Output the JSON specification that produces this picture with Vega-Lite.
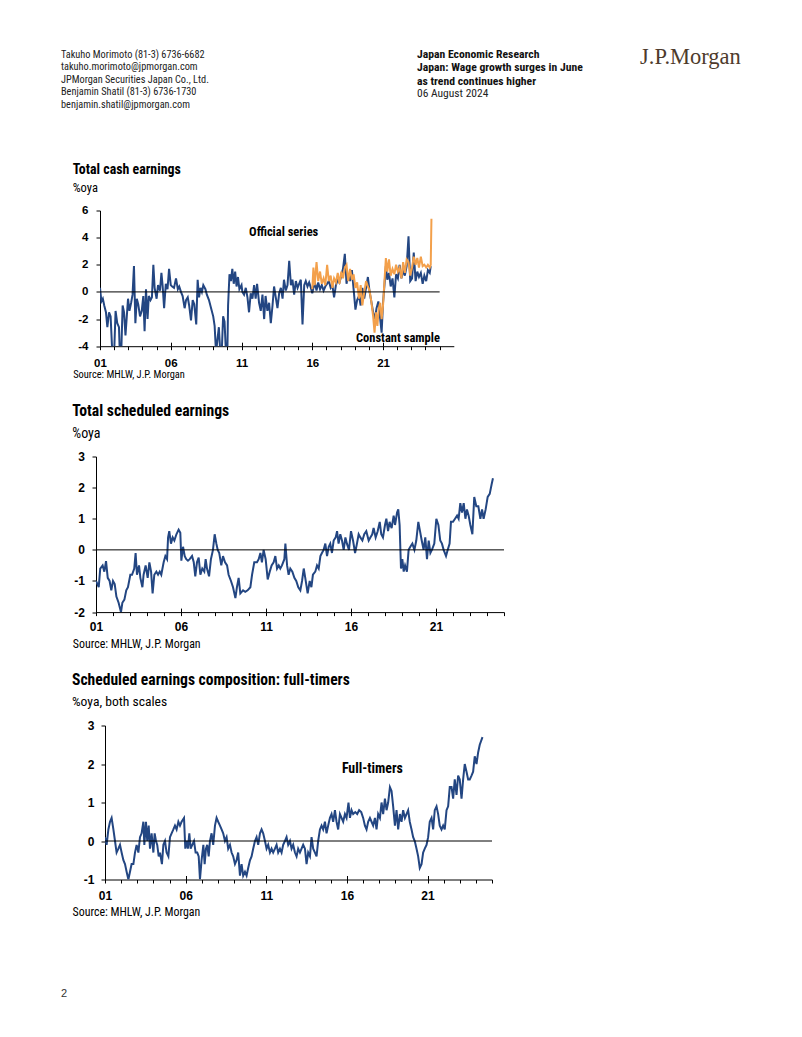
{
  "$schema": "https://vega.github.io/schema/vega-lite/v6.json",
  "background": "white",
  "padding": {"left": 61, "top": 45.5, "right": 0, "bottom": 0},
  "config": {"view": {"stroke": null}},
  "datasets": {
    "cashO": [
      {"t":2001.0,"v":0.3},{"t":2001.1,"v":-0.7},{"t":2001.2,"v":-0.5},{"t":2001.3,"v":-1.0},{"t":2001.42,"v":-1.5},{"t":2001.52,"v":-2.6},{"t":2001.64,"v":-1.5},{"t":2001.75,"v":-1.8},{"t":2001.87,"v":-4.5},{"t":2002.0,"v":-4.5},
      {"t":2002.1,"v":-1.4},{"t":2002.22,"v":-2.3},{"t":2002.34,"v":-2.6},{"t":2002.4,"v":-4.5},{"t":2002.5,"v":-4.5},{"t":2002.6,"v":-1.0},{"t":2002.7,"v":-1.5},{"t":2002.8,"v":-3.2},{"t":2002.98,"v":-0.5},
      {"t":2003.08,"v":-1.4},{"t":2003.2,"v":-0.8},{"t":2003.3,"v":-0.2},{"t":2003.4,"v":1.9},{"t":2003.5,"v":-2.3},{"t":2003.6,"v":-0.5},{"t":2003.7,"v":-0.9},{"t":2003.83,"v":-1.8},{"t":2003.95,"v":-1.4},
      {"t":2004.06,"v":-0.3},{"t":2004.15,"v":-2.9},{"t":2004.25,"v":0.2},{"t":2004.36,"v":-2.0},{"t":2004.45,"v":-0.3},{"t":2004.57,"v":-0.6},{"t":2004.67,"v":-0.4},{"t":2004.77,"v":2.0},{"t":2004.86,"v":0.3},
      {"t":2005.0,"v":-0.5},{"t":2005.1,"v":0.5},{"t":2005.24,"v":0.1},{"t":2005.34,"v":1.4},{"t":2005.43,"v":0.4},{"t":2005.53,"v":-1.2},{"t":2005.65,"v":0.6},{"t":2005.77,"v":0.2},{"t":2005.88,"v":1.7},
      {"t":2006.0,"v":0.5},{"t":2006.1,"v":0.4},{"t":2006.23,"v":0.3},{"t":2006.37,"v":1.0},{"t":2006.5,"v":0.2},{"t":2006.6,"v":0.4},{"t":2006.72,"v":0.0},{"t":2006.84,"v":-0.3},{"t":2006.98,"v":-1.2},
      {"t":2007.08,"v":-0.6},{"t":2007.2,"v":-0.4},{"t":2007.3,"v":-1.0},{"t":2007.43,"v":-2.1},{"t":2007.55,"v":-0.6},{"t":2007.66,"v":-0.9},{"t":2007.8,"v":-2.4},{"t":2007.9,"v":0.9},
      {"t":2008.0,"v":-0.4},{"t":2008.1,"v":0.3},{"t":2008.2,"v":0.0},{"t":2008.3,"v":0.5},{"t":2008.45,"v":0.2},{"t":2008.55,"v":-0.2},{"t":2008.7,"v":-0.6},{"t":2008.85,"v":-1.2},
      {"t":2009.0,"v":-1.8},{"t":2009.1,"v":-2.5},{"t":2009.2,"v":-4.5},{"t":2009.3,"v":-3.5},{"t":2009.4,"v":-2.6},{"t":2009.5,"v":-4.5},{"t":2009.6,"v":-4.5},{"t":2009.7,"v":-1.8},{"t":2009.8,"v":-2.2},{"t":2009.9,"v":-4.5},
      {"t":2010.0,"v":-4.5},{"t":2010.05,"v":-1.0},{"t":2010.15,"v":1.3},{"t":2010.25,"v":0.8},{"t":2010.35,"v":1.7},{"t":2010.45,"v":0.6},{"t":2010.55,"v":1.5},{"t":2010.65,"v":0.4},{"t":2010.75,"v":1.1},{"t":2010.85,"v":0.2},
      {"t":2011.0,"v":0.5},{"t":2011.06,"v":0.0},{"t":2011.18,"v":-0.2},{"t":2011.3,"v":0.3},{"t":2011.42,"v":-0.4},{"t":2011.53,"v":-1.5},{"t":2011.65,"v":-0.1},{"t":2011.77,"v":-0.5},{"t":2011.89,"v":0.5},
      {"t":2012.0,"v":-0.5},{"t":2012.1,"v":0.6},{"t":2012.24,"v":-0.8},{"t":2012.36,"v":-1.4},{"t":2012.48,"v":-0.2},{"t":2012.6,"v":-2.0},{"t":2012.7,"v":-0.3},{"t":2012.83,"v":-1.4},{"t":2012.95,"v":-0.8},
      {"t":2013.07,"v":-2.3},{"t":2013.19,"v":-1.0},{"t":2013.3,"v":0.4},{"t":2013.42,"v":-0.4},{"t":2013.54,"v":-1.2},{"t":2013.66,"v":-0.1},{"t":2013.78,"v":0.3},{"t":2013.9,"v":-0.5},
      {"t":2014.0,"v":0.9},{"t":2014.13,"v":0.1},{"t":2014.25,"v":0.5},{"t":2014.37,"v":2.3},{"t":2014.49,"v":0.5},{"t":2014.6,"v":0.9},{"t":2014.72,"v":-0.2},{"t":2014.84,"v":0.8},{"t":2014.96,"v":0.3},
      {"t":2015.07,"v":0.6},{"t":2015.19,"v":0.9},{"t":2015.31,"v":-2.4},{"t":2015.43,"v":0.5},{"t":2015.54,"v":0.8},{"t":2015.66,"v":0.4},{"t":2015.78,"v":0.7},{"t":2015.9,"v":0.3},
      {"t":2016.0,"v":-0.1},{"t":2016.08,"v":0.3},{"t":2016.2,"v":0.6},{"t":2016.3,"v":0.1},{"t":2016.42,"v":0.7},{"t":2016.55,"v":0.2},{"t":2016.67,"v":0.5},{"t":2016.8,"v":0.1},{"t":2016.92,"v":0.4},
      {"t":2017.05,"v":0.6},{"t":2017.17,"v":0.8},{"t":2017.3,"v":0.3},{"t":2017.42,"v":0.5},{"t":2017.54,"v":-0.4},{"t":2017.67,"v":0.5},{"t":2017.8,"v":0.9},{"t":2017.92,"v":0.7},
      {"t":2018.05,"v":1.2},{"t":2018.17,"v":1.7},{"t":2018.3,"v":2.8},{"t":2018.42,"v":0.6},{"t":2018.54,"v":1.3},{"t":2018.67,"v":0.8},{"t":2018.8,"v":1.6},{"t":2018.92,"v":0.2},
      {"t":2019.05,"v":-1.3},{"t":2019.17,"v":-0.6},{"t":2019.3,"v":-0.3},{"t":2019.42,"v":-1.0},{"t":2019.54,"v":0.3},{"t":2019.67,"v":-0.5},{"t":2019.8,"v":0.3},{"t":2019.93,"v":1.1},
      {"t":2020.05,"v":0.0},{"t":2020.17,"v":-0.7},{"t":2020.3,"v":-1.5},{"t":2020.42,"v":-2.0},{"t":2020.54,"v":-1.2},{"t":2020.67,"v":-0.7},{"t":2020.8,"v":-2.0},{"t":2020.9,"v":-3.0},
      {"t":2021.0,"v":-0.8},{"t":2021.1,"v":0.5},{"t":2021.2,"v":1.9},{"t":2021.3,"v":0.9},{"t":2021.42,"v":1.4},{"t":2021.54,"v":0.4},{"t":2021.67,"v":1.0},{"t":2021.8,"v":-0.4},{"t":2021.92,"v":1.3},
      {"t":2022.05,"v":1.0},{"t":2022.17,"v":2.0},{"t":2022.3,"v":1.0},{"t":2022.42,"v":1.6},{"t":2022.54,"v":1.2},{"t":2022.67,"v":1.9},{"t":2022.8,"v":4.1},{"t":2022.92,"v":0.8},
      {"t":2023.05,"v":1.0},{"t":2023.17,"v":2.9},{"t":2023.3,"v":0.8},{"t":2023.42,"v":1.5},{"t":2023.54,"v":1.1},{"t":2023.67,"v":1.4},{"t":2023.8,"v":0.6},{"t":2023.92,"v":1.2},
      {"t":2024.05,"v":0.8},{"t":2024.17,"v":1.6},{"t":2024.3,"v":1.4},{"t":2024.37,"v":1.9}
    ],
    "cashC": [
      {"t":2016.0,"v":0.2},{"t":2016.08,"v":1.8},{"t":2016.17,"v":0.5},{"t":2016.3,"v":2.2},{"t":2016.42,"v":0.8},{"t":2016.55,"v":1.5},{"t":2016.67,"v":0.6},{"t":2016.8,"v":1.0},{"t":2016.92,"v":0.5},
      {"t":2017.05,"v":2.0},{"t":2017.17,"v":0.8},{"t":2017.3,"v":1.2},{"t":2017.42,"v":0.3},{"t":2017.54,"v":1.0},{"t":2017.67,"v":0.7},{"t":2017.8,"v":1.4},{"t":2017.92,"v":0.6},
      {"t":2018.05,"v":1.5},{"t":2018.17,"v":1.0},{"t":2018.3,"v":1.8},{"t":2018.42,"v":2.0},{"t":2018.54,"v":0.8},{"t":2018.67,"v":1.7},{"t":2018.8,"v":0.9},{"t":2018.92,"v":1.3},
      {"t":2019.05,"v":0.3},{"t":2019.17,"v":0.7},{"t":2019.3,"v":-0.5},{"t":2019.42,"v":0.5},{"t":2019.54,"v":-1.0},{"t":2019.67,"v":0.0},{"t":2019.8,"v":0.8},{"t":2019.93,"v":0.4},
      {"t":2020.05,"v":0.1},{"t":2020.17,"v":-0.7},{"t":2020.3,"v":-1.8},{"t":2020.4,"v":-3.0},{"t":2020.5,"v":-1.5},{"t":2020.6,"v":-2.5},{"t":2020.7,"v":-1.2},{"t":2020.8,"v":-0.8},{"t":2020.9,"v":-2.0},
      {"t":2021.0,"v":-1.0},{"t":2021.1,"v":0.8},{"t":2021.2,"v":2.5},{"t":2021.3,"v":1.5},{"t":2021.42,"v":2.4},{"t":2021.54,"v":1.2},{"t":2021.67,"v":1.7},{"t":2021.8,"v":1.3},{"t":2021.92,"v":2.0},
      {"t":2022.05,"v":1.5},{"t":2022.17,"v":1.8},{"t":2022.3,"v":1.0},{"t":2022.42,"v":2.2},{"t":2022.54,"v":1.4},{"t":2022.67,"v":2.4},{"t":2022.8,"v":2.2},{"t":2022.92,"v":1.2},
      {"t":2023.05,"v":1.8},{"t":2023.17,"v":2.6},{"t":2023.3,"v":2.0},{"t":2023.42,"v":2.5},{"t":2023.54,"v":1.8},{"t":2023.67,"v":2.6},{"t":2023.8,"v":1.9},{"t":2023.92,"v":2.0},
      {"t":2024.05,"v":1.8},{"t":2024.17,"v":2.0},{"t":2024.3,"v":1.8},{"t":2024.37,"v":2.0},{"t":2024.42,"v":5.4}
    ],
    "sched": [
      {"t":2001.0,"v":-1.0},{"t":2001.16,"v":-1.2},{"t":2001.25,"v":-0.6},{"t":2001.39,"v":-0.5},{"t":2001.49,"v":-0.7},{"t":2001.59,"v":-0.36},{"t":2001.69,"v":-0.9},{"t":2001.8,"v":-1.0},{"t":2001.9,"v":-1.3},
      {"t":2002.0,"v":-1.0},{"t":2002.1,"v":-1.1},{"t":2002.2,"v":-1.5},{"t":2002.33,"v":-1.7},{"t":2002.47,"v":-2.0},{"t":2002.55,"v":-1.7},{"t":2002.67,"v":-1.6},{"t":2002.78,"v":-1.3},{"t":2002.88,"v":-1.2},
      {"t":2003.02,"v":-0.8},{"t":2003.12,"v":-0.8},{"t":2003.25,"v":-0.6},{"t":2003.33,"v":-0.1},{"t":2003.41,"v":-0.8},{"t":2003.53,"v":-0.5},{"t":2003.61,"v":-0.9},{"t":2003.73,"v":-1.2},{"t":2003.8,"v":-0.8},{"t":2003.92,"v":-0.5},
      {"t":2004.04,"v":-0.9},{"t":2004.14,"v":-0.4},{"t":2004.24,"v":-0.7},{"t":2004.33,"v":-1.4},{"t":2004.43,"v":-0.8},{"t":2004.55,"v":-0.7},{"t":2004.65,"v":-0.8},{"t":2004.75,"v":-0.7},{"t":2004.84,"v":-0.8},{"t":2004.98,"v":-0.4},
      {"t":2005.08,"v":-0.2},{"t":2005.18,"v":-0.3},{"t":2005.24,"v":0.4},{"t":2005.31,"v":0.6},{"t":2005.41,"v":0.2},{"t":2005.51,"v":0.4},{"t":2005.61,"v":0.3},{"t":2005.73,"v":0.5},{"t":2005.86,"v":0.65},{"t":2005.96,"v":0.55},
      {"t":2006.02,"v":-0.35},{"t":2006.12,"v":0.1},{"t":2006.22,"v":-0.2},{"t":2006.31,"v":-0.3},{"t":2006.41,"v":-0.35},{"t":2006.51,"v":-0.3},{"t":2006.65,"v":-0.2},{"t":2006.75,"v":-0.4},{"t":2006.84,"v":-0.85},{"t":2006.94,"v":-0.4},
      {"t":2007.04,"v":-0.25},{"t":2007.14,"v":-0.8},{"t":2007.25,"v":-0.6},{"t":2007.37,"v":-0.7},{"t":2007.45,"v":-0.3},{"t":2007.53,"v":-0.6},{"t":2007.65,"v":-0.85},{"t":2007.76,"v":-0.3},{"t":2007.88,"v":0.0},{"t":2007.98,"v":0.5},
      {"t":2008.08,"v":0.2},{"t":2008.16,"v":0.0},{"t":2008.25,"v":-0.1},{"t":2008.37,"v":-0.5},{"t":2008.47,"v":-0.2},{"t":2008.59,"v":-0.4},{"t":2008.71,"v":-0.5},{"t":2008.8,"v":-0.8},{"t":2008.94,"v":-1.0},
      {"t":2009.06,"v":-1.2},{"t":2009.2,"v":-1.55},{"t":2009.29,"v":-1.2},{"t":2009.39,"v":-0.9},{"t":2009.49,"v":-1.4},{"t":2009.65,"v":-1.3},{"t":2009.78,"v":-1.35},{"t":2009.92,"v":-1.3},
      {"t":2010.08,"v":-1.2},{"t":2010.18,"v":-0.8},{"t":2010.31,"v":-0.4},{"t":2010.47,"v":-0.4},{"t":2010.57,"v":-0.3},{"t":2010.67,"v":-0.1},{"t":2010.76,"v":-0.4},{"t":2010.86,"v":0.0},{"t":2010.98,"v":-0.3},
      {"t":2011.1,"v":-0.95},{"t":2011.22,"v":-0.7},{"t":2011.33,"v":-0.5},{"t":2011.45,"v":-0.4},{"t":2011.55,"v":-0.2},{"t":2011.65,"v":-0.6},{"t":2011.75,"v":-0.5},{"t":2011.84,"v":-0.6},{"t":2011.94,"v":-0.5},
      {"t":2012.08,"v":-0.3},{"t":2012.14,"v":0.2},{"t":2012.24,"v":-0.5},{"t":2012.33,"v":-0.8},{"t":2012.43,"v":-0.6},{"t":2012.55,"v":-0.7},{"t":2012.67,"v":-0.9},{"t":2012.78,"v":-1.0},{"t":2012.9,"v":-1.2},
      {"t":2013.02,"v":-1.3},{"t":2013.12,"v":-1.0},{"t":2013.22,"v":-0.6},{"t":2013.31,"v":-0.9},{"t":2013.45,"v":-1.4},{"t":2013.57,"v":-1.0},{"t":2013.67,"v":-1.2},{"t":2013.76,"v":-0.8},{"t":2013.9,"v":-0.7},
      {"t":2014.0,"v":-0.5},{"t":2014.1,"v":-0.6},{"t":2014.2,"v":-0.2},{"t":2014.29,"v":-0.1},{"t":2014.39,"v":0.0},{"t":2014.49,"v":0.2},{"t":2014.59,"v":-0.2},{"t":2014.69,"v":0.1},{"t":2014.78,"v":0.2},{"t":2014.88,"v":-0.1},{"t":2014.98,"v":0.3},
      {"t":2015.1,"v":0.4},{"t":2015.18,"v":0.6},{"t":2015.27,"v":0.2},{"t":2015.37,"v":0.5},{"t":2015.47,"v":0.3},{"t":2015.57,"v":0.0},{"t":2015.67,"v":0.4},{"t":2015.76,"v":0.2},{"t":2015.88,"v":0.0},
      {"t":2016.0,"v":0.6},{"t":2016.12,"v":0.3},{"t":2016.24,"v":-0.1},{"t":2016.35,"v":0.2},{"t":2016.45,"v":0.5},{"t":2016.55,"v":0.4},{"t":2016.67,"v":0.3},{"t":2016.78,"v":0.5},{"t":2016.9,"v":0.6},
      {"t":2017.04,"v":0.3},{"t":2017.14,"v":0.4},{"t":2017.25,"v":0.5},{"t":2017.33,"v":0.7},{"t":2017.45,"v":0.4},{"t":2017.57,"v":0.6},{"t":2017.69,"v":0.9},{"t":2017.78,"v":0.5},{"t":2017.88,"v":0.4},
      {"t":2018.0,"v":0.8},{"t":2018.08,"v":1.0},{"t":2018.18,"v":0.6},{"t":2018.27,"v":0.9},{"t":2018.39,"v":0.7},{"t":2018.51,"v":1.1},{"t":2018.59,"v":0.8},{"t":2018.71,"v":1.2},{"t":2018.78,"v":1.3},{"t":2018.86,"v":0.8},{"t":2018.94,"v":-0.6},
      {"t":2019.02,"v":-0.3},{"t":2019.1,"v":-0.7},{"t":2019.18,"v":-0.5},{"t":2019.29,"v":-0.7},{"t":2019.39,"v":0.0},{"t":2019.49,"v":0.1},{"t":2019.61,"v":0.2},{"t":2019.73,"v":0.0},{"t":2019.84,"v":0.3},{"t":2019.96,"v":0.9},
      {"t":2020.06,"v":0.6},{"t":2020.16,"v":0.3},{"t":2020.27,"v":0.0},{"t":2020.37,"v":0.4},{"t":2020.47,"v":-0.3},{"t":2020.57,"v":0.3},{"t":2020.67,"v":-0.1},{"t":2020.76,"v":0.0},{"t":2020.9,"v":0.2},
      {"t":2021.02,"v":1.0},{"t":2021.14,"v":0.8},{"t":2021.25,"v":0.3},{"t":2021.35,"v":0.2},{"t":2021.45,"v":0.0},{"t":2021.59,"v":-0.2},{"t":2021.69,"v":0.0},{"t":2021.8,"v":0.2},{"t":2021.88,"v":0.9},
      {"t":2022.0,"v":0.9},{"t":2022.12,"v":1.0},{"t":2022.24,"v":1.1},{"t":2022.33,"v":1.0},{"t":2022.43,"v":1.5},{"t":2022.53,"v":1.2},{"t":2022.63,"v":1.5},{"t":2022.73,"v":1.0},{"t":2022.82,"v":1.3},{"t":2022.92,"v":1.1},
      {"t":2023.02,"v":0.8},{"t":2023.14,"v":0.5},{"t":2023.25,"v":1.7},{"t":2023.37,"v":1.4},{"t":2023.49,"v":1.4},{"t":2023.61,"v":1.0},{"t":2023.71,"v":1.3},{"t":2023.8,"v":1.0},{"t":2023.92,"v":1.3},
      {"t":2024.04,"v":1.7},{"t":2024.16,"v":1.8},{"t":2024.27,"v":2.1},{"t":2024.35,"v":2.3}
    ],
    "full": [
      {"t":2001.0,"v":0.1},{"t":2001.1,"v":-0.1},{"t":2001.21,"v":0.3},{"t":2001.31,"v":0.5},{"t":2001.41,"v":0.6},{"t":2001.52,"v":0.3},{"t":2001.62,"v":0.0},{"t":2001.72,"v":-0.3},{"t":2001.83,"v":-0.2},{"t":2001.93,"v":-0.1},
      {"t":2002.03,"v":-0.3},{"t":2002.14,"v":-0.5},{"t":2002.24,"v":-0.6},{"t":2002.34,"v":-0.8},{"t":2002.45,"v":-1.0},{"t":2002.55,"v":-0.8},{"t":2002.65,"v":-0.6},{"t":2002.76,"v":-0.6},{"t":2002.86,"v":-0.3},{"t":2002.96,"v":-0.1},
      {"t":2003.07,"v":-0.3},{"t":2003.17,"v":0.1},{"t":2003.27,"v":0.2},{"t":2003.38,"v":0.5},{"t":2003.44,"v":-0.1},{"t":2003.54,"v":0.5},{"t":2003.62,"v":0.0},{"t":2003.71,"v":0.4},{"t":2003.79,"v":-0.2},{"t":2003.89,"v":0.2},
      {"t":2004.0,"v":-0.3},{"t":2004.08,"v":0.2},{"t":2004.16,"v":0.0},{"t":2004.24,"v":-0.1},{"t":2004.33,"v":-0.4},{"t":2004.41,"v":-0.3},{"t":2004.53,"v":-0.6},{"t":2004.62,"v":-0.1},{"t":2004.72,"v":0.0},{"t":2004.82,"v":-0.3},{"t":2004.93,"v":-0.4},
      {"t":2005.03,"v":0.1},{"t":2005.13,"v":0.2},{"t":2005.24,"v":0.3},{"t":2005.34,"v":0.4},{"t":2005.44,"v":0.3},{"t":2005.55,"v":0.5},{"t":2005.65,"v":0.4},{"t":2005.75,"v":0.5},{"t":2005.9,"v":0.6},{"t":2005.98,"v":-0.2},
      {"t":2006.06,"v":0.0},{"t":2006.14,"v":-0.2},{"t":2006.23,"v":0.2},{"t":2006.31,"v":-0.2},{"t":2006.41,"v":-0.1},{"t":2006.52,"v":0.0},{"t":2006.62,"v":-0.3},{"t":2006.72,"v":-0.3},{"t":2006.81,"v":-0.4},{"t":2006.89,"v":-1.0},{"t":2006.99,"v":-0.5},
      {"t":2007.1,"v":-0.1},{"t":2007.18,"v":-0.6},{"t":2007.26,"v":-0.2},{"t":2007.34,"v":-0.1},{"t":2007.43,"v":-0.4},{"t":2007.51,"v":0.0},{"t":2007.61,"v":0.2},{"t":2007.71,"v":-0.1},{"t":2007.82,"v":0.4},{"t":2007.92,"v":0.6},
      {"t":2008.02,"v":0.5},{"t":2008.13,"v":0.4},{"t":2008.23,"v":0.3},{"t":2008.33,"v":0.2},{"t":2008.44,"v":0.0},{"t":2008.54,"v":0.1},{"t":2008.64,"v":-0.2},{"t":2008.75,"v":-0.1},{"t":2008.85,"v":-0.3},{"t":2008.95,"v":-0.4},
      {"t":2009.06,"v":-0.6},{"t":2009.16,"v":-0.5},{"t":2009.26,"v":-0.3},{"t":2009.37,"v":-0.9},{"t":2009.47,"v":-0.6},{"t":2009.57,"v":-0.9},{"t":2009.68,"v":-0.8},{"t":2009.78,"v":-0.9},{"t":2009.88,"v":-0.7},{"t":2009.99,"v":-0.5},
      {"t":2010.09,"v":-0.4},{"t":2010.19,"v":-0.2},{"t":2010.3,"v":0.0},{"t":2010.4,"v":0.1},{"t":2010.5,"v":-0.1},{"t":2010.61,"v":0.2},{"t":2010.71,"v":0.3},{"t":2010.81,"v":0.2},{"t":2010.92,"v":0.0},
      {"t":2011.02,"v":-0.2},{"t":2011.12,"v":-0.1},{"t":2011.23,"v":-0.3},{"t":2011.33,"v":-0.2},{"t":2011.43,"v":-0.3},{"t":2011.54,"v":-0.2},{"t":2011.64,"v":-0.1},{"t":2011.74,"v":-0.3},{"t":2011.85,"v":-0.2},{"t":2011.95,"v":-0.3},
      {"t":2012.05,"v":-0.1},{"t":2012.16,"v":0.0},{"t":2012.26,"v":0.1},{"t":2012.36,"v":-0.1},{"t":2012.47,"v":0.0},{"t":2012.57,"v":-0.2},{"t":2012.67,"v":-0.1},{"t":2012.78,"v":-0.3},{"t":2012.88,"v":-0.4},{"t":2012.98,"v":-0.2},
      {"t":2013.09,"v":-0.3},{"t":2013.19,"v":-0.2},{"t":2013.29,"v":-0.1},{"t":2013.4,"v":-0.2},{"t":2013.5,"v":-0.6},{"t":2013.6,"v":-0.3},{"t":2013.71,"v":-0.4},{"t":2013.81,"v":0.1},{"t":2013.91,"v":-0.2},
      {"t":2014.02,"v":-0.3},{"t":2014.12,"v":-0.4},{"t":2014.22,"v":0.0},{"t":2014.33,"v":0.3},{"t":2014.43,"v":0.4},{"t":2014.53,"v":0.3},{"t":2014.64,"v":0.5},{"t":2014.74,"v":0.2},{"t":2014.84,"v":0.4},{"t":2014.95,"v":0.6},
      {"t":2015.05,"v":0.7},{"t":2015.15,"v":0.5},{"t":2015.26,"v":0.8},{"t":2015.36,"v":0.5},{"t":2015.46,"v":0.3},{"t":2015.57,"v":0.7},{"t":2015.67,"v":0.6},{"t":2015.77,"v":0.5},{"t":2015.88,"v":0.7},{"t":2015.98,"v":0.6},
      {"t":2016.1,"v":1.0},{"t":2016.19,"v":0.6},{"t":2016.29,"v":0.8},{"t":2016.39,"v":0.7},{"t":2016.52,"v":0.75},{"t":2016.64,"v":0.7},{"t":2016.76,"v":0.8},{"t":2016.89,"v":0.75},
      {"t":2017.01,"v":0.6},{"t":2017.12,"v":0.4},{"t":2017.22,"v":0.3},{"t":2017.32,"v":0.5},{"t":2017.43,"v":0.6},{"t":2017.53,"v":0.5},{"t":2017.63,"v":0.4},{"t":2017.74,"v":0.6},{"t":2017.84,"v":0.3},{"t":2017.94,"v":0.7},
      {"t":2018.05,"v":0.6},{"t":2018.15,"v":1.0},{"t":2018.25,"v":0.7},{"t":2018.36,"v":1.1},{"t":2018.46,"v":0.8},{"t":2018.56,"v":1.0},{"t":2018.67,"v":1.4},{"t":2018.77,"v":1.3},{"t":2018.87,"v":0.9},{"t":2018.98,"v":0.4},
      {"t":2019.08,"v":0.8},{"t":2019.18,"v":0.3},{"t":2019.29,"v":0.7},{"t":2019.39,"v":0.5},{"t":2019.49,"v":0.8},{"t":2019.6,"v":0.6},{"t":2019.7,"v":0.7},{"t":2019.8,"v":0.8},{"t":2019.9,"v":0.5},
      {"t":2020.01,"v":0.3},{"t":2020.11,"v":0.1},{"t":2020.21,"v":0.0},{"t":2020.32,"v":-0.2},{"t":2020.42,"v":-0.4},{"t":2020.52,"v":-0.7},{"t":2020.63,"v":-0.6},{"t":2020.73,"v":-0.3},{"t":2020.83,"v":-0.2},{"t":2020.94,"v":-0.1},
      {"t":2021.04,"v":0.1},{"t":2021.14,"v":0.5},{"t":2021.25,"v":0.6},{"t":2021.35,"v":0.3},{"t":2021.45,"v":0.8},{"t":2021.56,"v":0.9},{"t":2021.66,"v":0.7},{"t":2021.76,"v":0.4},{"t":2021.87,"v":0.3},{"t":2021.97,"v":0.4},
      {"t":2022.07,"v":0.3},{"t":2022.18,"v":0.8},{"t":2022.28,"v":0.9},{"t":2022.38,"v":1.4},{"t":2022.49,"v":1.4},{"t":2022.59,"v":1.1},{"t":2022.69,"v":1.6},{"t":2022.8,"v":1.2},{"t":2022.9,"v":1.7},
      {"t":2023.0,"v":1.6},{"t":2023.11,"v":1.1},{"t":2023.21,"v":1.6},{"t":2023.31,"v":2.0},{"t":2023.42,"v":1.8},{"t":2023.52,"v":1.6},{"t":2023.62,"v":1.6},{"t":2023.73,"v":1.7},{"t":2023.83,"v":1.8},{"t":2023.93,"v":2.2},
      {"t":2024.04,"v":2.0},{"t":2024.14,"v":2.3},{"t":2024.24,"v":2.5},{"t":2024.41,"v":2.7}
    ],
    "notes1": [
      {"t":2013.98,"v":4.4,"label":"Official series"},
      {"t":2022.05,"v":-3.4,"label":"Constant sample"}
    ],
    "notes3": [
      {"t":2017.58,"v":1.88,"label":"Full-timers"}
    ]
  },
  "spacing": 49,
  "vconcat": [
    {
      "hconcat": [
        {
          "width": 346, "height": 68,
          "data": {"values": [
            {"n":1,"s":"Takuho Morimoto  (81-3) 6736-6682"},
            {"n":2,"s":"takuho.morimoto@jpmorgan.com"},
            {"n":3,"s":"JPMorgan Securities Japan Co., Ltd."},
            {"n":4,"s":"Benjamin Shatil  (81-3) 6736-1730"},
            {"n":5,"s":"benjamin.shatil@jpmorgan.com"}
          ]},
          "mark": {"type":"text","align":"left","baseline":"middle","font":"Roboto Condensed","fontSize":10.3,"color":"#222"},
          "encoding": {
            "x": {"datum":0,"type":"quantitative","scale":{"domain":[0,1]},"axis":null},
            "y": {"field":"n","type":"ordinal","scale":{"type":"point","padding":0.72},"axis":null},
            "text": {"field":"s"}
          }
        },
        {
          "width": 213, "height": 57,
          "data": {"values": [
            {"n":1,"s":"Japan Economic Research","w":"b"},
            {"n":2,"s":"Japan: Wage growth surges in June","w":"b"},
            {"n":3,"s":"as trend continues higher","w":"b"},
            {"n":4,"s":"06 August 2024","w":"n"}
          ]},
          "layer": [
            {
              "transform": [{"filter":"datum.w==='b'"}],
              "mark": {"type":"text","align":"left","baseline":"middle","font":"Roboto Condensed","fontSize":11.7,"fontWeight":"bold","color":"#111"},
              "encoding": {
                "x": {"datum":0,"type":"quantitative","scale":{"domain":[0,1]},"axis":null},
                "y": {"field":"n","type":"ordinal","scale":{"type":"point","padding":0.69},"axis":null},
                "text": {"field":"s"}
              }
            },
            {
              "transform": [{"filter":"datum.w==='n'"}],
              "mark": {"type":"text","align":"left","baseline":"middle","font":"Roboto Condensed","fontSize":11.5,"color":"#222"},
              "encoding": {
                "x": {"datum":0,"type":"quantitative","axis":null},
                "y": {"field":"n","type":"ordinal","axis":null},
                "text": {"field":"s"}
              }
            }
          ]
        },
        {
          "width": 110, "height": 1,
          "data": {"values": [{"s":"J.P.Morgan"}]},
          "mark": {"type":"text","align":"left","baseline":"top","font":"Liberation Serif","fontSize":22.5,"color":"#4e3b2c"},
          "encoding": {
            "x": {"datum":0,"type":"quantitative","scale":{"domain":[0,1]},"axis":null},
            "text": {"field":"s"}
          }
        }
      ],
      "spacing": 10
    },
    {
      "spacing": 22,
      "vconcat": [
        {
          "bounds": "flush", "spacing": 0,
          "hconcat": [
            {"width": 38.3, "height": 1, "data": {"values": [{"s":""}]}, "mark": {"type":"text"}, "encoding": {"text": {"field":"s"}}},
            {
              "width": 353.8, "height": 135.7,
              "title": {"text":"Total cash earnings","subtitle":"%oya","anchor":"start","frame":"group","dx":-27.3,"offset":9.8,
                "font":"Roboto Condensed","fontSize":13.9,"fontWeight":"bold","color":"#000",
                "subtitleFont":"Roboto Condensed","subtitleFontSize":12.5,"subtitleColor":"#000","subtitlePadding":5},
              "layer": [
                {
                  "data": {"name":"cashO"},
                  "mark": {"type":"line","color":"#234682","strokeWidth":2,"clip":true},
                  "encoding": {
                    "x": {"field":"t","type":"quantitative","scale":{"domain":[2001,2026],"nice":false,"zero":false},
                      "axis": {"orient":"bottom","values":[2001,2006,2011,2016,2021],"labelExpr":"substring(toString(datum.value),2,4)",
                        "tickSize":-4,"tickColor":"#000","domainColor":"#000","labelFont":"Liberation Sans","labelFontWeight":"bold","labelFontSize":11.5,"labelColor":"#000",
                        "labelPadding":15,"labelFlush":false,"labelOverlap":false,"grid":false,
                        "title":"Source: MHLW, J.P. Morgan","titleFont":"Roboto Condensed","titleFontSize":10.4,"titleFontWeight":"normal","titleColor":"#000",
                        "titleAlign":"left","titleAnchor":"start","titleX":-27.3,"titleY":28.5,"titleBaseline":"middle"}},
                    "y": {"field":"v","type":"quantitative","scale":{"domain":[-4,6],"nice":false,"zero":false},
                      "axis": {"orient":"left","values":[-4,-2,0,2,4,6],"labelExpr":"toString(datum.value)","labelOverlap":false,"labelFlush":false,"tickSize":4,"tickColor":"#000","domainColor":"#000","labelFont":"Liberation Sans","labelFontWeight":"bold","labelFontSize":11.5,"labelColor":"#000","labelPadding":8,"grid":false,"title":null}}
                  }
                },
                {
                  "data": {"name":"cashC"},
                  "mark": {"type":"line","color":"#f3a04b","strokeWidth":2,"clip":true},
                  "encoding": {
                    "x": {"field":"t","type":"quantitative","axis":null},
                    "y": {"field":"v","type":"quantitative","axis":null}
                  }
                },
                {
                  "data": {"values":[{"z":0}]},
                  "mark": {"type":"rule","color":"#000","strokeWidth":1},
                  "encoding": {
                    "x": {"datum":2001,"type":"quantitative","axis":{"orient":"bottom","values":[2001,2002,2003,2004,2005,2006,2007,2008,2009,2010,2011,2012,2013,2014,2015,2016,2017,2018,2019,2020,2021,2022,2023,2024,2025],"tickSize":3.5,"tickColor":"#000","labels":false,"domain":false,"grid":false,"title":null}},
                    "x2": {"datum":2025},
                    "y": {"field":"z","type":"quantitative","axis":null}
                  }
                },
                {
                  "data": {"name":"notes1"},
                  "mark": {"type":"text","font":"Roboto Condensed","fontSize":12.5,"fontWeight":"bold","color":"#000"},
                  "encoding": {
                    "x": {"field":"t","type":"quantitative","axis":null},
                    "y": {"field":"v","type":"quantitative","axis":null},
                    "text": {"field":"label"}
                  }
                }
              ],
              "resolve": {"axis": {"x":"independent","y":"independent"}}
            }
          ]
        },
        {
          "bounds": "flush", "spacing": 0,
          "hconcat": [
            {"width": 34.7, "height": 1, "data": {"values": [{"s":""}]}, "mark": {"type":"text"}, "encoding": {"text": {"field":"s"}}},
            {
              "width": 408, "height": 155.6,
              "title": {"text":"Total scheduled earnings","subtitle":"%oya","anchor":"start","frame":"group","dx":-23.7,"offset":8.5,
                "font":"Roboto Condensed","fontSize":15.7,"fontWeight":"bold","color":"#000",
                "subtitleFont":"Roboto Condensed","subtitleFontSize":14,"subtitleColor":"#000","subtitlePadding":7},
              "layer": [
                {
                  "data": {"name":"sched"},
                  "mark": {"type":"line","color":"#234682","strokeWidth":2,"clip":true},
                  "encoding": {
                    "x": {"field":"t","type":"quantitative","scale":{"domain":[2001,2025],"nice":false,"zero":false},
                      "axis": {"orient":"bottom","values":[2001,2006,2011,2016,2021],"labelExpr":"substring(toString(datum.value),2,4)",
                        "tickSize":-4,"tickColor":"#000","domainColor":"#000","labelFont":"Liberation Sans","labelFontWeight":"bold","labelFontSize":12,"labelColor":"#000",
                        "labelPadding":13,"labelFlush":false,"labelOverlap":false,"grid":false,
                        "title":"Source: MHLW, J.P. Morgan","titleFont":"Roboto Condensed","titleFontSize":11.9,"titleFontWeight":"normal","titleColor":"#000",
                        "titleAlign":"left","titleAnchor":"start","titleX":-23.7,"titleY":31.8,"titleBaseline":"middle"}},
                    "y": {"field":"v","type":"quantitative","scale":{"domain":[-2,3],"nice":false,"zero":false},
                      "axis": {"orient":"left","values":[-2,-1,0,1,2,3],"labelExpr":"toString(datum.value)","labelOverlap":false,"labelFlush":false,"tickSize":4,"tickColor":"#000","domainColor":"#000","labelFont":"Liberation Sans","labelFontWeight":"bold","labelFontSize":12,"labelColor":"#000","labelPadding":7.5,"grid":false,"title":null}}
                  }
                },
                {
                  "data": {"values":[{"z":0}]},
                  "mark": {"type":"rule","color":"#000","strokeWidth":1},
                  "encoding": {
                    "x": {"datum":2001,"type":"quantitative","axis":{"orient":"bottom","values":[2001,2002,2003,2004,2005,2006,2007,2008,2009,2010,2011,2012,2013,2014,2015,2016,2017,2018,2019,2020,2021,2022,2023,2024,2025],"tickSize":3.5,"tickColor":"#000","labels":false,"domain":false,"grid":false,"title":null}},
                    "x2": {"datum":2025},
                    "y": {"field":"z","type":"quantitative","axis":null}
                  }
                }
              ],
              "resolve": {"axis": {"x":"independent","y":"independent"}}
            }
          ]
        },
        {
          "bounds": "flush", "spacing": 0,
          "hconcat": [
            {"width": 44, "height": 1, "data": {"values": [{"s":""}]}, "mark": {"type":"text"}, "encoding": {"text": {"field":"s"}}},
            {
              "width": 387, "height": 154,
              "title": {"text":"Scheduled earnings composition: full-timers","subtitle":"%oya, both scales","anchor":"start","frame":"group","dx":-33,"offset":10.5,
                "font":"Roboto Condensed","fontSize":15.6,"fontWeight":"bold","color":"#000",
                "subtitleFont":"Roboto Condensed","subtitleFontSize":13.6,"subtitleColor":"#000","subtitlePadding":6.5},
              "layer": [
                {
                  "data": {"name":"full"},
                  "mark": {"type":"line","color":"#234682","strokeWidth":2,"clip":true},
                  "encoding": {
                    "x": {"field":"t","type":"quantitative","scale":{"domain":[2001,2025],"nice":false,"zero":false},
                      "axis": {"orient":"bottom","values":[2001,2006,2011,2016,2021],"labelExpr":"substring(toString(datum.value),2,4)",
                        "tickSize":-4,"tickColor":"#000","domainColor":"#000","labelFont":"Liberation Sans","labelFontWeight":"bold","labelFontSize":12,"labelColor":"#000",
                        "labelPadding":14.5,"labelFlush":false,"labelOverlap":false,"grid":false,
                        "title":"Source: MHLW, J.P. Morgan","titleFont":"Roboto Condensed","titleFontSize":11.9,"titleFontWeight":"normal","titleColor":"#000",
                        "titleAlign":"left","titleAnchor":"start","titleX":-33,"titleY":32,"titleBaseline":"middle"}},
                    "y": {"field":"v","type":"quantitative","scale":{"domain":[-1,3],"nice":false,"zero":false},
                      "axis": {"orient":"left","values":[-1,0,1,2,3],"labelExpr":"toString(datum.value)","labelOverlap":false,"labelFlush":false,"tickSize":4,"tickColor":"#000","domainColor":"#000","labelFont":"Liberation Sans","labelFontWeight":"bold","labelFontSize":12,"labelColor":"#000","labelPadding":7,"grid":false,"title":null}}
                  }
                },
                {
                  "data": {"values":[{"z":0}]},
                  "mark": {"type":"rule","color":"#000","strokeWidth":1},
                  "encoding": {
                    "x": {"datum":2001,"type":"quantitative","axis":{"orient":"bottom","values":[2001,2002,2003,2004,2005,2006,2007,2008,2009,2010,2011,2012,2013,2014,2015,2016,2017,2018,2019,2020,2021,2022,2023,2024,2025],"tickSize":3.5,"tickColor":"#000","labels":false,"domain":false,"grid":false,"title":null}},
                    "x2": {"datum":2025},
                    "y": {"field":"z","type":"quantitative","axis":null}
                  }
                },
                {
                  "data": {"name":"notes3"},
                  "mark": {"type":"text","font":"Roboto Condensed","fontSize":13.9,"fontWeight":"bold","color":"#000"},
                  "encoding": {
                    "x": {"field":"t","type":"quantitative","axis":null},
                    "y": {"field":"v","type":"quantitative","axis":null},
                    "text": {"field":"label"}
                  }
                }
              ],
              "resolve": {"axis": {"x":"independent","y":"independent"}}
            }
          ]
        }
      ]
    },
    {
      "width": 20, "height": 55,
      "data": {"values": [{"p":"2"}]},
      "mark": {"type":"text","align":"left","baseline":"middle","font":"Liberation Sans","fontSize":11,"color":"#333"},
      "encoding": {
        "x": {"datum":0,"type":"quantitative","scale":{"domain":[0,1]},"axis":null},
        "text": {"field":"p"}
      }
    }
  ]
}
